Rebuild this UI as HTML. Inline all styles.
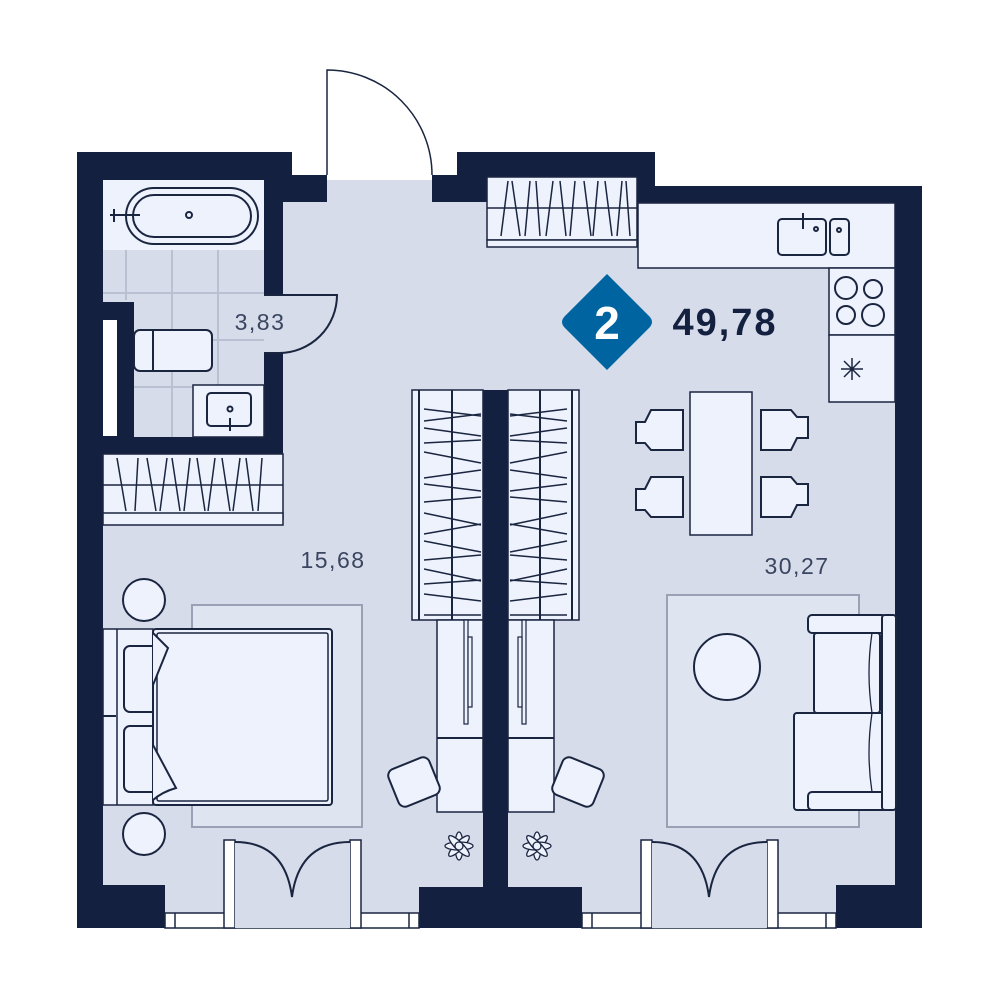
<!DOCTYPE html>
<html><head><meta charset="utf-8"><style>body{margin:0;background:#fff}svg{display:block}</style></head><body>
<svg width="1000" height="1000" viewBox="0 0 1000 1000" xmlns="http://www.w3.org/2000/svg" font-family="Liberation Sans, sans-serif">
<g fill="#d6dcea">
<rect x="103" y="180" width="792" height="733"/>
<rect x="327" y="187" width="105" height="20"/>
</g>
<rect x="655" y="150" width="270" height="36" fill="#fff"/>
<!-- bathroom tiles -->
<g stroke="#b9c0d2" stroke-width="2">
<line x1="126" y1="250" x2="126" y2="300"/><line x1="172" y1="250" x2="172" y2="437"/><line x1="218" y1="250" x2="218" y2="437"/>
<line x1="103" y1="293" x2="264" y2="293"/><line x1="134" y1="340" x2="264" y2="340"/><line x1="134" y1="387" x2="264" y2="387"/>
</g>
<!-- walls -->
<g fill="#14203f">
<rect x="77" y="152" width="215" height="28"/>
<rect x="264" y="175" width="63" height="27"/>
<rect x="77" y="152" width="26" height="776"/>
<rect x="264" y="180" width="19" height="115"/>
<rect x="264" y="353" width="19" height="84"/>
<rect x="77" y="437" width="206" height="17"/>
<rect x="103" y="302" width="31" height="135"/>
<rect x="432" y="175" width="55" height="27"/>
<rect x="457" y="152" width="198" height="25"/>
<rect x="637" y="152" width="18" height="51"/>
<rect x="637" y="186" width="285" height="17"/>
<rect x="895" y="186" width="27" height="742"/>
<rect x="483" y="390" width="25" height="500"/>
<rect x="419" y="887" width="163" height="41"/>
<rect x="77" y="885" width="88" height="43"/>
<rect x="836" y="885" width="86" height="43"/>
</g>
<rect x="103" y="320" width="14" height="116" fill="#fff"/>
<g fill="#eef2fd" stroke="#1a2540" stroke-width="2">
<rect x="103" y="180" width="161" height="70" stroke="none"/>
<rect x="126" y="188" width="132" height="56" rx="28"/>
<rect x="133" y="195" width="118" height="42" rx="21"/>
<circle cx="189" cy="215" r="3"/>
<line x1="110" y1="215" x2="140" y2="215"/><line x1="114" y1="209" x2="114" y2="222"/>
<rect x="134" y="330" width="78" height="41" rx="6"/><line x1="153" y1="330" x2="153" y2="371"/>
<rect x="193" y="385" width="71" height="52" stroke-width="1.5"/>
<rect x="207" y="393" width="44" height="33" rx="4"/><circle cx="230" cy="409" r="2.5"/><line x1="230" y1="418" x2="230" y2="431"/>
<path d="M264 295 H337 A58 58 0 0 1 279 353 H264" fill="#d6dcea"/>
<rect x="103" y="454" width="180" height="65" stroke-width="1.5"/>
<line x1="103" y1="485" x2="283" y2="485" stroke-width="1.5"/>
<rect x="103" y="513" width="180" height="12" stroke-width="1.5"/>
<rect x="487" y="177" width="150" height="63" stroke-width="1.5"/>
<line x1="487" y1="208" x2="637" y2="208" stroke-width="1.5"/>
<rect x="487" y="240" width="150" height="7" stroke-width="1.5"/>
<rect x="638" y="203" width="257" height="65" stroke-width="1.5"/>
<rect x="778" y="219" width="48" height="36" rx="4"/><rect x="830" y="219" width="19" height="36" rx="4"/>
<line x1="803" y1="213" x2="803" y2="229"/><circle cx="816" cy="229" r="2"/><circle cx="839" cy="230" r="2"/>
<rect x="829" y="268" width="66" height="67" stroke-width="1.5"/>
<circle cx="846" cy="288" r="11"/><circle cx="873" cy="289" r="9"/><circle cx="846" cy="315" r="9"/><circle cx="873" cy="315" r="11"/>
<rect x="829" y="335" width="66" height="67" stroke-width="1.5"/>
<rect x="690" y="392" width="62" height="143" stroke-width="1.5"/>
<path d="M651 410 H683 V450 H651 L645 443 H636 V422 H645 Z"/>
<path d="M651 477 H683 V517 H651 L645 510 H636 V489 H645 Z"/>
<path d="M761 410 H791 L797 417 H808 V438 H797 L791 450 H761 Z"/>
<path d="M761 477 H791 L797 484 H808 V505 H797 L791 517 H761 Z"/>
<rect x="412" y="390" width="71" height="230" stroke-width="1.5"/>
<line x1="419" y1="390" x2="419" y2="620"/><line x1="452" y1="390" x2="452" y2="620"/>
<rect x="508" y="390" width="71" height="230" stroke-width="1.5"/>
<line x1="572" y1="390" x2="572" y2="620"/><line x1="540" y1="390" x2="540" y2="620"/>
<rect x="437" y="620" width="46" height="192" stroke-width="1.5"/><line x1="437" y1="738" x2="483" y2="738"/>
<rect x="508" y="620" width="46" height="192" stroke-width="1.5"/><line x1="508" y1="738" x2="554" y2="738"/>
<rect x="464" y="620" width="4" height="104" stroke-width="1.2"/><rect x="468" y="637" width="4" height="70" stroke-width="1.2"/>
<rect x="522" y="620" width="4" height="104" stroke-width="1.2"/><rect x="518" y="637" width="4" height="70" stroke-width="1.2"/>
<g transform="rotate(-22 414 782)"><rect x="392" y="762" width="44" height="40" rx="7"/></g>
<g transform="rotate(22 578 782)"><rect x="556" y="762" width="44" height="40" rx="7"/></g>
</g>
<g stroke="#1a2540" stroke-width="1.5" fill="none">
<path d="M117 458 L126 511 M138 458 L135 511 M147 458 L156 511 M167 458 L160 511 M172 458 L180 511 M190 458 L184 511 M197 458 L205 511 M215 458 L208 511 M222 458 L230 511 M240 458 L233 511 M246 458 L253 511 M262 458 L258 511"/>
<path d="M508 181 L501 236 M512 181 L520 236 M530 181 L525 236 M536 181 L540 236 M553 181 L546 236 M560 181 L566 236 M575 181 L570 236 M584 181 L591 236 M598 181 L593 236 M605 181 L612 236 M622 181 L617 236 M626 181 L630 236"/>
<path d="M424 409 L481 416 M424 421 L481 414 M424 428 L481 436 M424 443 L481 440 M424 452 L481 463 M424 478 L481 470 M424 484 L481 491 M424 502 L481 497 M424 513 L481 525 M424 534 L481 524 M424 541 L481 552 M424 560 L481 555 M424 569 L481 581 M424 584 L481 580 M424 594 L481 601 M424 615 L481 615"/>
<path d="M510 416 L567 409 M510 414 L567 421 M510 436 L567 428 M510 440 L567 443 M510 463 L567 452 M510 470 L567 478 M510 491 L567 484 M510 497 L567 502 M510 525 L567 513 M510 524 L567 534 M510 552 L567 541 M510 555 L567 560 M510 581 L567 569 M510 580 L567 584 M510 601 L567 594 M510 615 L567 615"/>
<path d="M852 358 V380 M841 369 H863 M844 361 L860 377 M860 361 L844 377" stroke-width="1.5"/>
<path d="M327 175 V70 A105 105 0 0 1 432 175"/>
</g>
<rect x="192" y="605" width="170" height="222" fill="#dfe4f1" stroke="#9aa1b4" stroke-width="2"/>
<rect x="667" y="595" width="192" height="232" fill="#dfe4f1" stroke="#9aa1b4" stroke-width="2"/>
<g fill="#eef2fd" stroke="#1a2540" stroke-width="2">
<circle cx="144" cy="600" r="21"/><circle cx="144" cy="834" r="21"/>
<rect x="103" y="629" width="50" height="176" stroke-width="1.5"/>
<line x1="103" y1="716" x2="116" y2="716"/><line x1="117" y1="629" x2="117" y2="805" stroke-width="1.5"/>
<rect x="124" y="646" width="40" height="66" rx="6"/><rect x="124" y="726" width="40" height="66" rx="6"/>
<rect x="153" y="629" width="179" height="176" rx="3"/>
<rect x="157" y="633" width="171" height="168" rx="2" stroke-width="1.5"/>
<path d="M153 633 Q160 640 168 648 L153 685 M153 745 L176 788 Q162 792 153 800"/>
<rect x="808" y="615" width="78" height="18" rx="4"/>
<rect x="814" y="633" width="66" height="80" rx="3"/>
<rect x="794" y="713" width="92" height="97" rx="3"/>
<rect x="808" y="792" width="78" height="18" rx="4"/>
<rect x="882" y="615" width="14" height="195" rx="3"/>
<path d="M872 633 Q866 673 872 713 Q866 753 872 792" fill="none" stroke-width="1.3"/>
<circle cx="727" cy="667" r="33"/>
</g>
<g fill="#eef2fd" stroke="#1a2540" stroke-width="1.3">
<g transform="translate(459,846)"><ellipse rx="4" ry="14"/><ellipse rx="4" ry="14" transform="rotate(45)"/><ellipse rx="4" ry="14" transform="rotate(90)"/><ellipse rx="4" ry="14" transform="rotate(135)"/><circle r="4"/></g>
<g transform="translate(537,846)"><ellipse rx="4" ry="14"/><ellipse rx="4" ry="14" transform="rotate(45)"/><ellipse rx="4" ry="14" transform="rotate(90)"/><ellipse rx="4" ry="14" transform="rotate(135)"/><circle r="4"/></g>
</g>
<g fill="#fff" stroke="#1a2540" stroke-width="1.5">
<rect x="165" y="913" width="254" height="15"/><rect x="582" y="913" width="254" height="15"/>
<rect x="224" y="840" width="11" height="88"/><rect x="350" y="840" width="11" height="88"/>
<rect x="641" y="840" width="11" height="88"/><rect x="767" y="840" width="11" height="88"/>
<line x1="175" y1="913" x2="175" y2="928"/><line x1="409" y1="913" x2="409" y2="928"/>
<line x1="592" y1="913" x2="592" y2="928"/><line x1="826" y1="913" x2="826" y2="928"/>
</g>
<rect x="235" y="842" width="115" height="86" fill="#d6dcea"/>
<rect x="652" y="842" width="115" height="86" fill="#d6dcea"/>
<g fill="none" stroke="#1a2540" stroke-width="2">
<path d="M235 842 Q285 842 292 897 Q299 842 350 842"/>
<path d="M652 842 Q702 842 709 897 Q716 842 767 842"/>
</g>
<path d="M607 274 L649 316 Q655 322 649 328 L607 370 L565 328 Q559 322 565 316 Z" fill="#0064a0"/>
<text x="607" y="339" font-size="46" font-weight="bold" fill="#fff" text-anchor="middle">2</text>
<text x="725" y="335" font-size="38" font-weight="bold" fill="#14203f" text-anchor="middle" letter-spacing="2">49,78</text>
<g font-size="23" fill="#3a4560" text-anchor="middle" letter-spacing="1.5">
<text x="260" y="330">3,83</text><text x="333" y="568">15,68</text><text x="797" y="574">30,27</text>
</g>
</svg>
</body></html>
